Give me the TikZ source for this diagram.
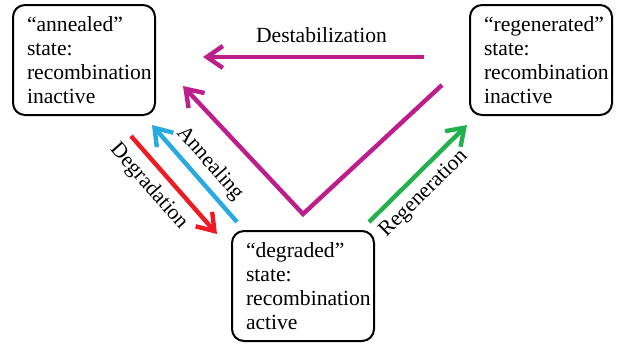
\documentclass[tikz,border=0pt]{standalone}
\usepackage{fontspec}
\setmainfont{Liberation Serif}
\usetikzlibrary{arrows.meta}

\definecolor{degcol}{RGB}{237,28,36}
\definecolor{anncol}{RGB}{40,170,225}
\definecolor{regcol}{RGB}{34,177,76}
\definecolor{destabcol}{RGB}{190,30,140}
\newcommand\statefont{\fontsize{10.8}{12}\selectfont\hyphenpenalty 10000\relax}

\begin{document}
\begin{tikzpicture}
[x=0.5pt,y=0.5pt,%
  every node/.style={font=\fontsize{10.8}{12}\selectfont},%
  statebox/.style={draw,line width=1pt,rounded corners=6pt,align=left,%
    text width=57pt,inner xsep=7pt,minimum height=55pt,font=\statefont},%
  flow/.style={line width=2.2pt,-{Straight Barb[length=8pt,width=11pt]}},%
  lbl/.style={inner sep=2pt,sloped}]
\useasboundingbox (0,0) rectangle (619,-345);
\node[statebox] (annealed) at (84,-60) {“annealed”\\state:\\recombination\\inactive};
\node[statebox] (regenerated) at (541,-60) {“regenerated”\\state:\\recombination\\inactive};
\node[statebox] (degraded) at (303,-286) {“degraded”\\state:\\recombination\\active};
%% degradation / annealing pair
\draw[flow,degcol] ([shift={(-25,-20)}]annealed.south east)
  -- node[lbl,below=2pt,pos=0.38,text=black] (degradlbl) {Degradation}
  ([shift={(-14,-4)}]degraded.north west);
\draw[flow,anncol] ([shift={(6,8)}]degraded.north west)
  -- node[lbl,above=1pt,pos=0.48,text=black] (anneallbl) {Annealing}
  ([shift={(-4,-9)}]annealed.south east);
%% regeneration
\draw[flow,regcol] ([shift={(-6,8)}]degraded.north east)
  -- node[lbl,below=1.5pt,pos=0.425,text=black] (regenlbl) {Regeneration}
  ([shift={(-2,-9)}]regenerated.south west);
%% destabilization
\draw[flow,destabcol] ([shift={(-45,3)}]regenerated.west)
  -- node[lbl,above=4pt,xshift=4pt,text=black] (destablbl) {Destabilization}
  ([shift={(47,3)}]annealed.east);
\draw[flow,destabcol] ([shift={(-27,31)}]regenerated.south west)
  -- ([shift={(0,16)}]degraded.north)
  -- ([shift={(27,30)}]annealed.south east);
\end{tikzpicture}
\end{document}
